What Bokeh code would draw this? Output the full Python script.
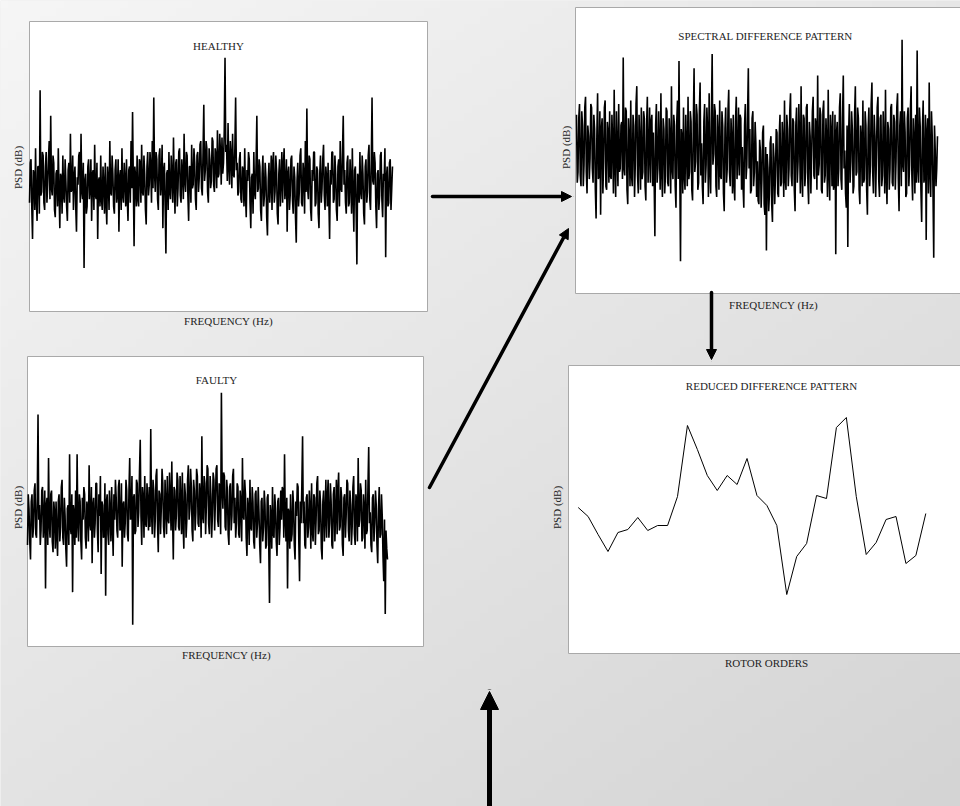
import numpy as np
from bokeh.plotting import figure
from bokeh.models import Range1d, Label, Arrow, NormalHead
from bokeh.embed import file_html
from bokeh.resources import INLINE

# ---------------- data (PSD in dB) ----------------
healthy_db = [
    -50, -39, -38, -51, -60, -41, -42, -52, -35, -49, -55, -40, -40, -53, -19, -48, -47, -36, -37, -50,
    -52, -40, -36, -50, -45, -38, -33, -49, -26, -46, -48, -37, -39, -52, -54, -42, -41, -51, -35, -47,
    -57, -42, -43, -53, -37, -48, -50, -38, -44, -51, -55, -41, -39, -50, -31, -47, -46, -37, -52, -43,
    -40, -51, -58, -43, -45, -37, -36, -50, -31, -47, -49, -39, -68, -44, -42, -53, -51, -40, -38, -49,
    -46, -38, -55, -42, -41, -52, -34, -48, -49, -39, -60, -44, -43, -51, -37, -49, -52, -40, -45, -53,
    -39, -50, -56, -40, -44, -52, -33, -47, -48, -37, -42, -51, -53, -41, -38, -50, -47, -38, -58, -43,
    -41, -52, -35, -48, -50, -39, -44, -51, -38, -49, -55, -41, -40, -50, -33, -46, -25, -44, -62, -40,
    -43, -51, -37, -49, -51, -38, -39, -50, -34, -47, -48, -37, -42, -52, -56, -40, -36, -48, -45, -36,
    -40, -50, -33, -46, -21, -42, -47, -36, -38, -49, -52, -37, -35, -48, -44, -34, -57, -41, -39, -51,
    -64, -42, -41, -52, -36, -47, -49, -37, -43, -50, -32, -45, -53, -39, -38, -51, -46, -36, -35, -48,
    -50, -38, -42, -49, -31, -44, -47, -36, -37, -48, -55, -40, -40, -50, -34, -46, -45, -35, -39, -49,
    -52, -37, -36, -47, -43, -34, -33, -46, -48, -36, -23, -44, -41, -33, -35, -47, -50, -35, -38, -46,
    -44, -32, -33, -45, -47, -35, -37, -46, -30, -43, -42, -31, -36, -45, -32, -42, -39, -30, -10, -36,
    -34, -44, -28, -40, -45, -33, -37, -46, -31, -42, -43, -35, -21, -41, -39, -48, -47, -38, -36, -49,
    -50, -40, -41, -51, -35, -48, -54, -41, -44, -36, -38, -50, -57, -43, -42, -53, -36, -47, -49, -39,
    -26, -47, -46, -38, -40, -52, -55, -42, -37, -51, -48, -39, -43, -54, -59, -44, -39, -50, -45, -37,
    -52, -39, -36, -50, -47, -37, -41, -53, -56, -42, -38, -51, -44, -36, -50, -40, -35, -49, -46, -38,
    -58, -42, -40, -52, -48, -38, -37, -49, -53, -40, -43, -54, -61, -44, -39, -51, -47, -37, -35, -50,
    -51, -39, -42, -53, -33, -47, -24, -46, -49, -37, -38, -52, -55, -41, -44, -36, -36, -51, -50, -40,
    -41, -53, -57, -42, -37, -50, -46, -38, -34, -48, -52, -40, -43, -51, -39, -49, -60, -41, -45, -36,
    -36, -50, -49, -37, -42, -52, -55, -40, -38, -51, -33, -46, -47, -36, -26, -45, -41, -50, -53, -39,
    -37, -51, -50, -38, -44, -53, -35, -48, -58, -41, -40, -52, -67, -42, -43, -50, -36, -47, -49, -37,
    -42, -53, -56, -40, -38, -50, -47, -37, -34, -49, -52, -39, -21, -44, -45, -36, -39, -51, -57, -42,
    -41, -52, -48, -37, -36, -49, -54, -42, -44, -35, -65, -43, -40, -51, -50, -39, -38, -52, -46, -40,
]

difference_db = [
    -30, -49, -46, -31, -27, -47, -50, -29, -33, -50, -44, -28, -25, -46, -52, -33, -36, -48, -42, -27,
    -28, -45, -49, -30, -34, -51, -59, -36, -24, -48, -47, -29, -58, -34, -31, -52, -43, -28, -26, -50,
    -51, -32, -35, -49, -29, -47, -48, -30, -38, -52, -23, -44, -53, -29, -40, -50, -27, -46, -45, -33,
    -32, -48, -14, -45, -47, -28, -29, -51, -55, -31, -37, -50, -26, -47, -50, -30, -33, -53, -44, -27,
    -22, -47, -52, -30, -38, -51, -28, -48, -46, -29, -31, -50, -54, -33, -25, -49, -41, -28, -49, -32,
    -30, -50, -35, -48, -64, -33, -27, -49, -45, -29, -39, -51, -24, -46, -53, -31, -34, -52, -47, -28,
    -29, -49, -50, -31, -37, -52, -22, -45, -48, -30, -33, -50, -56, -32, -26, -48, -15, -44, -71, -34,
    -36, -52, -28, -47, -51, -30, -40, -50, -25, -48, -46, -29, -32, -51, -54, -33, -17, -46, -43, -27,
    -30, -51, -49, -29, -21, -47, -38, -50, -55, -32, -27, -49, -44, -28, -35, -53, -24, -45, -52, -31,
    -13, -44, -41, -27, -29, -50, -53, -30, -36, -51, -26, -47, -48, -29, -33, -52, -57, -34, -28, -49,
    -45, -29, -23, -46, -50, -31, -37, -52, -30, -49, -54, -32, -25, -48, -42, -28, -47, -30, -31, -51,
    -39, -50, -56, -33, -27, -48, -44, -30, -17, -45, -34, -52, -51, -31, -29, -50, -46, -32, -38, -53,
    -43, -54, -55, -37, -40, -56, -48, -35, -33, -55, -58, -39, -68, -41, -45, -57, -52, -38, -36, -55,
    -60, -38, -42, -55, -47, -34, -35, -52, -53, -36, -30, -50, -49, -32, -38, -53, -26, -48, -51, -30,
    -34, -50, -45, -29, -24, -47, -50, -31, -32, -51, -57, -33, -28, -49, -43, -27, -37, -52, -22, -46,
    -53, -30, -31, -50, -46, -28, -27, -49, -55, -32, -36, -52, -41, -29, -25, -47, -48, -31, -33, -51,
    -19, -47, -44, -28, -30, -51, -52, -29, -26, -49, -47, -31, -38, -53, -23, -46, -54, -30, -35, -50,
    -29, -51, -49, -30, -69, -35, -32, -50, -45, -28, -24, -48, -51, -31, -19, -45, -40, -52, -56, -33,
    -67, -36, -27, -49, -43, -29, -34, -52, -50, -30, -22, -47, -46, -28, -31, -51, -55, -33, -37, -50,
    -26, -49, -48, -29, -33, -51, -58, -34, -28, -50, -44, -27, -21, -46, -52, -30, -36, -53, -41, -28,
    -25, -48, -53, -31, -30, -50, -47, -29, -38, -52, -23, -47, -55, -32, -34, -51, -45, -28, -27, -49,
    -50, -30, -32, -51, -43, -28, -24, -48, -57, -33, -29, -50, -9, -44, -46, -29, -35, -53, -52, -31,
    -28, -50, -44, -29, -22, -47, -54, -31, -37, -52, -30, -49, -12, -45, -49, -28, -33, -51, -60, -34,
    -26, -49, -47, -30, -65, -35, -31, -52, -21, -46, -53, -29, -36, -51, -70, -33, -40, -50, -45, -36,
]

faulty_db = [
    -52, -38, -42, -51, -56, -40, -38, -50, -47, -37, -35, -49, -50, -39, -16, -45, -41, -52, -48, -37,
    -36, -50, -45, -37, -64, -41, -39, -52, -28, -46, -50, -38, -37, -51, -54, -40, -43, -53, -40, -49,
    -55, -40, -38, -51, -47, -36, -34, -50, -52, -39, -44, -53, -58, -42, -41, -52, -27, -47, -49, -38,
    -65, -41, -43, -52, -37, -50, -27, -46, -51, -38, -40, -51, -56, -39, -45, -36, -38, -50, -53, -40,
    -42, -51, -30, -46, -48, -36, -57, -41, -39, -50, -46, -35, -35, -48, -54, -38, -44, -33, -60, -40,
    -41, -50, -49, -35, -66, -40, -38, -49, -52, -37, -43, -51, -36, -47, -55, -38, -45, -34, -39, -48,
    -50, -36, -34, -48, -47, -35, -58, -41, -40, -50, -46, -34, -37, -49, -51, -37, -28, -45, -44, -33,
    -74, -39, -38, -49, -48, -34, -35, -47, -43, -32, -23, -44, -52, -36, -39, -50, -33, -46, -47, -35,
    -40, -48, -36, -47, -20, -43, -49, -34, -37, -50, -45, -33, -31, -46, -54, -37, -38, -49, -42, -31,
    -35, -47, -50, -34, -41, -49, -33, -45, -46, -32, -39, -48, -29, -44, -56, -36, -37, -48, -44, -32,
    -34, -47, -48, -33, -40, -49, -32, -46, -53, -35, -38, -50, -45, -34, -30, -45, -42, -31, -36, -48,
    -51, -34, -37, -48, -43, -31, -33, -46, -47, -35, -39, -50, -22, -44, -46, -33, -35, -49, -41, -30,
    -31, -46, -49, -33, -38, -50, -44, -32, -34, -48, -40, -31, -30, -45, -47, -35, -36, -49, -10, -37,
    -42, -32, -33, -47, -48, -34, -37, -49, -52, -36, -35, -48, -44, -33, -31, -46, -39, -50, -46, -35,
    -36, -49, -50, -37, -41, -51, -28, -44, -45, -34, -38, -50, -55, -39, -42, -52, -34, -47, -48, -36,
    -40, -51, -53, -38, -37, -50, -46, -36, -43, -52, -57, -40, -39, -51, -47, -37, -41, -53, -52, -39,
    -38, -52, -68, -41, -44, -53, -36, -49, -50, -38, -42, -51, -55, -40, -39, -52, -47, -37, -45, -36,
    -37, -50, -27, -45, -51, -39, -64, -42, -43, -53, -38, -51, -49, -37, -41, -52, -56, -40, -44, -35,
    -36, -51, -62, -40, -46, -36, -22, -46, -40, -52, -53, -39, -38, -50, -47, -37, -42, -53, -35, -48,
    -51, -38, -39, -52, -45, -35, -33, -49, -48, -37, -41, -53, -56, -40, -37, -51, -44, -34, -50, -39,
    -34, -50, -46, -35, -40, -52, -53, -38, -36, -51, -43, -34, -49, -37, -32, -48, -47, -36, -39, -52,
    -55, -39, -38, -50, -44, -34, -35, -48, -51, -37, -41, -52, -47, -36, -33, -49, -52, -38, -40, -51,
    -28, -47, -45, -35, -37, -51, -50, -38, -42, -53, -34, -49, -48, -36, -25, -46, -43, -52, -54, -39,
    -38, -51, -46, -37, -41, -52, -57, -42, -36, -50, -49, -38, -44, -55, -62, -45, -71, -48, -53, -56,
]

rotor_orders = list(range(1, 37))
reduced_db = [
    -15.4, -16.3, -18.1, -19.8, -17.9, -17.6, -16.4, -17.7, -17.2, -17.2,
    -14.3, -7.2, -9.6, -12.2, -13.7, -12.2, -13.1, -10.5, -14.2, -15.2,
    -17.2, -24.1, -20.3, -19.0, -14.2, -14.5, -7.4, -6.4, -14.3, -20.1,
    -18.9, -16.6, -16.3, -21.0, -20.2, -16.0,
]

titles = ["HEALTHY", "SPECTRAL DIFFERENCE PATTERN", "FAULTY", "REDUCED DIFFERENCE PATTERN"]
xlabels = ["FREQUENCY (Hz)", "FREQUENCY (Hz)", "FREQUENCY (Hz)", "ROTOR ORDERS"]
ylabel = "PSD (dB)"

# ---------------- canvas ----------------
X0, Y0 = 0, 0
W, H = 960, 806
FONT = "Liberation Serif"

p = figure(width=W, height=H, x_range=Range1d(X0, X0 + W), y_range=Range1d(Y0 + H, Y0),
           output_backend="svg", toolbar_location=None, min_border=0,
           x_axis_location=None, y_axis_location=None)
p.grid.visible = False
p.outline_line_color = None
p.background_fill_color = "#e6e6e6"
p.border_fill_color = "#e6e6e6"

# background gradient (light top-left to darker bottom-right)
ny, nx = 100, 120
gx, gy = np.meshgrid(np.linspace(0, 1, nx), np.linspace(0, 1, ny))
t = 0.45 * gx + 0.55 * gy
g = np.clip(246 - 34 * t, 0, 255).astype(np.uint32)
img = (np.uint32(255) << 24) | (g << 16) | (g << 8) | g
p.image_rgba(image=[img], x=X0, y=Y0, dw=W, dh=H)

# panel boxes: (left, right, top, bottom)
boxes = [(29, 427, 21, 311), (575, 1000, 7, 293), (27, 423, 356, 646), (568, 1000, 365, 653)]
p.quad(left=[b[0] for b in boxes], right=[b[1] for b in boxes],
       top=[b[2] for b in boxes], bottom=[b[3] for b in boxes],
       fill_color="white", line_color="#a9a9a9", line_width=1)

# per-panel scales (extra ranges mapping data into each panel's plotting area)
xr, yr = {}, {}
def panel_ranges(name, px0, px1, x0, x1, py_top, py_bot, ymin, ymax):
    sx = (x1 - x0) / (px1 - px0)
    xr[name] = Range1d(x0 - (px0 - X0) * sx, x0 + (X0 + W - px0) * sx)
    sy = (ymax - ymin) / (py_bot - py_top)
    yr[name] = Range1d(ymin - (Y0 + H - py_bot) * sy, ymax + (py_top - Y0) * sy)

n1, n2, n3 = len(healthy_db), len(difference_db), len(faulty_db)
panel_ranges("healthy", 29, 392, 0, n1 - 1, 21, 311, -80, 0)
panel_ranges("diff", 576, 937, 0, n2 - 1, 7, 293, -80, 0)
panel_ranges("faulty", 27, 387, 0, n3 - 1, 356, 646, -80, 0)
panel_ranges("reduced", 577.7, 925.3, 1, 36, 365, 653, -30, -1.2)
p.extra_x_ranges = xr
p.extra_y_ranges = yr

NW = 1.6
p.line(list(range(n1)), healthy_db, x_range_name="healthy", y_range_name="healthy",
       line_color="black", line_width=NW)
p.line(list(range(n2)), difference_db, x_range_name="diff", y_range_name="diff",
       line_color="black", line_width=NW)
p.line(list(range(n3)), faulty_db, x_range_name="faulty", y_range_name="faulty",
       line_color="black", line_width=NW)
p.line(rotor_orders, reduced_db, x_range_name="reduced", y_range_name="reduced",
       line_color="black", line_width=1)

# texts
def lab(txt, x, y, angle=0.0):
    p.add_layout(Label(x=x, y=y, text=txt, angle=angle, text_align="center",
                       text_baseline="middle", text_font=FONT, text_font_size="11px",
                       text_color="#1e1e1e"))

title_pos = [(218, 45), (765, 35), (216, 379), (771, 385)]
xlab_pos = [(228, 320), (773, 304), (226, 654), (766, 662)]
ylab_pos = [(17, 167), (565, 147), (17, 507), (556, 507)]
for i in range(4):
    lab(titles[i], *title_pos[i])
    lab(xlabels[i], *xlab_pos[i])
    lab(ylabel, *ylab_pos[i], angle=np.pi / 2)

# arrows
def arrow(xs, ys, xe, ye, lw, size):
    p.add_layout(Arrow(end=NormalHead(size=size, fill_color="black", line_color="black"),
                       x_start=xs, y_start=ys, x_end=xe, y_end=ye,
                       line_width=lw, line_color="black", line_cap="round"))

arrow(432, 196, 571, 196, 3.5, 10)
arrow(429, 487, 568, 228, 3.5, 10)
arrow(711, 292, 711, 359, 3.5, 10)
arrow(489, 815, 489, 691, 5, 18)

open("out.html", "w").write(file_html(p, INLINE))
